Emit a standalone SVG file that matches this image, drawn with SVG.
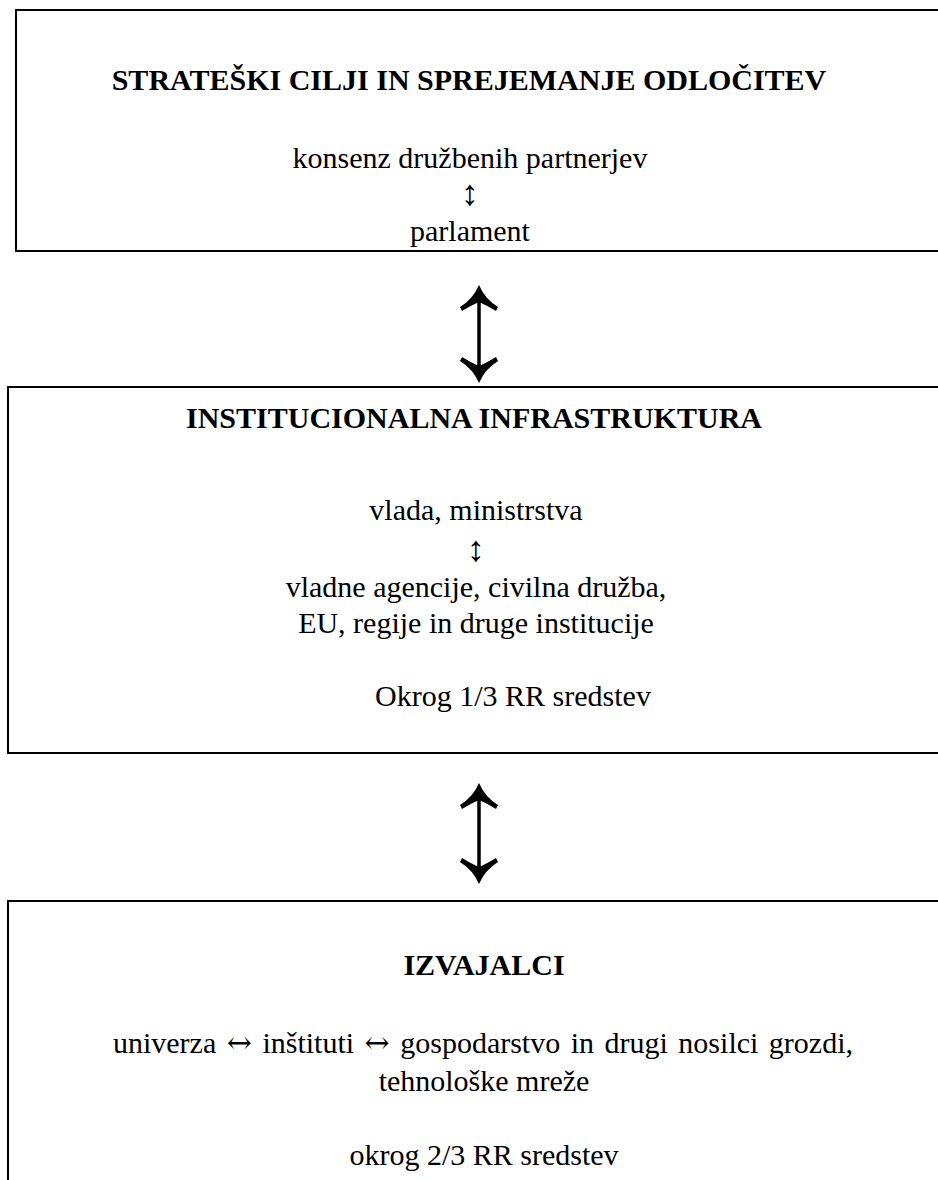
<svg xmlns="http://www.w3.org/2000/svg" width="938" height="1180" viewBox="0 0 938 1180">
<style>
.box{fill:#fff;stroke:#000;stroke-width:2}
.t{font-family:"Liberation Serif","Times New Roman",serif;font-size:30px;fill:#000;text-anchor:middle}
.b{font-weight:bold}
.ud{font-size:36px}
.lr{font-family:"DejaVu Serif","Liberation Serif",serif;font-weight:300}
.arr{fill:#000;stroke:none}
.shaft{stroke:#000;stroke-width:3.5;fill:none}
</style>
<defs>
<path id="head" class="arr" d="M0,0 Q-6,14 -19,22 L-17,26 Q-7,20 0,17 Q7,20 17,26 L19,22 Q6,14 0,0 Z"/>
</defs>
<rect width="938" height="1180" fill="#fff"/>
<g id="node-strateski">
<rect class="box" x="16" y="10" width="940" height="241"/>
<text class="t b" x="469" y="90">STRATEŠKI CILJI IN SPREJEMANJE ODLOČITEV</text>
<text class="t" x="470" y="168">konsenz družbenih partnerjev</text>
<text class="t ud" x="470" y="205">↕</text>
<text class="t" x="470" y="241">parlament</text>
</g>
<g id="node-institucionalna">
<rect class="box" x="8" y="387" width="948" height="366"/>
<text class="t b" x="474" y="428">INSTITUCIONALNA INFRASTRUKTURA</text>
<text class="t" x="476" y="520">vlada, ministrstva</text>
<text class="t ud" x="476" y="561">↕</text>
<text class="t" x="476" y="597">vladne agencije, civilna družba,</text>
<text class="t" x="476" y="633">EU, regije in druge institucije</text>
<text class="t" x="513" y="706">Okrog 1/3 RR sredstev</text>
</g>
<g id="node-izvajalci">
<rect class="box" x="8" y="901" width="948" height="300"/>
<text class="t b" x="484" y="975">IZVAJALCI</text>
<text class="t" x="483" y="1053" word-spacing="3">univerza <tspan class="lr">↔</tspan> inštituti <tspan class="lr">↔</tspan> gospodarstvo in drugi nosilci grozdi,</text>
<text class="t" x="484" y="1091">tehnološke mreže</text>
<text class="t" x="484" y="1165">okrog 2/3 RR sredstev</text>
</g>
<g id="connectors">
<line class="shaft" x1="479" y1="290" x2="479" y2="378"/>
<use href="#head" transform="translate(479,285)"/>
<use href="#head" transform="translate(479,383) scale(1,-1)"/>
<line class="shaft" x1="479" y1="788" x2="479" y2="879"/>
<use href="#head" transform="translate(479,783)"/>
<use href="#head" transform="translate(479,884) scale(1,-1)"/>
</g>
</svg>
